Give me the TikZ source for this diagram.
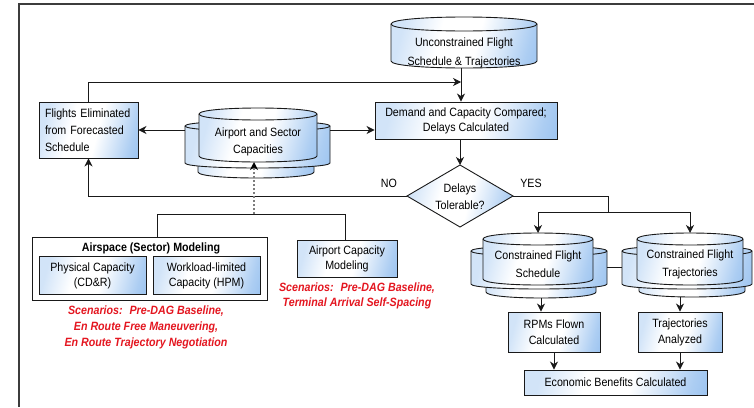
\documentclass[tikz,border=0pt]{standalone}
\usepackage{fontspec}
\setmainfont{Liberation Sans}[FakeStretch=0.89]
\usetikzlibrary{arrows.meta,fit}

\definecolor{boxblue}{RGB}{105,165,232}
\definecolor{scenred}{RGB}{228,22,32}
\definecolor{framegrey}{RGB}{60,60,60}
\definecolor{dashgrey}{RGB}{125,125,125}

% light at the left, white in the middle, blue towards the right
\pgfdeclarehorizontalshading{boxshade}{100bp}{color(0bp)=(boxblue!30); color(25bp)=(boxblue!30);
  color(40bp)=(white); color(55bp)=(white); color(75bp)=(boxblue!55); color(100bp)=(boxblue)}

\tikzset{
  flowline/.style={line width=0.9pt, draw=black!90},
  arr/.style={flowline, -{Stealth[length=8pt,width=8pt,inset=2.5pt]}},
  dasharr/.style={line width=1.4pt, draw=dashgrey, dash pattern=on 2.5pt off 1.5pt,
    -{Stealth[length=8pt,width=8pt,inset=2.5pt,color=black]}},
  shadefill/.style={shading=boxshade, shading angle=-15},
  procbox/.style={rectangle, draw=black!90, line width=0.9pt, shadefill, inner sep=0pt,
    align=center, font=\fontsize{12}{15}\selectfont},
  cylfill/.style={draw=black!90, line width=0.9pt, shadefill},
  cyledge/.style={draw=black!90, line width=0.9pt},
  anchorbox/.style={inner sep=0pt, outer sep=0pt},
  lbl/.style={inner sep=0pt, align=center, font=\fontsize{12}{15}\selectfont},
  scen/.style={inner sep=0pt, align=center, text=scenred,
    font=\fontsize{12}{16}\selectfont\bfseries\itshape},
}

% one cylinder: centre x, top y, bottom y, half width, ellipse radius
\newcommand\cylpiece[5]{%
  \path[cylfill] (#1-#4,#2+#5) .. controls (#1-#4,#2-0.333*#5) and (#1+#4,#2-0.333*#5) .. (#1+#4,#2+#5)
    -- (#1+#4,#3-#5) .. controls (#1+#4,#3+0.333*#5) and (#1-#4,#3+0.333*#5) .. (#1-#4,#3-#5) -- cycle;
  \draw[cyledge] (#1-#4,#2+#5) .. controls (#1-#4,#2+2.333*#5) and (#1+#4,#2+2.333*#5) .. (#1+#4,#2+#5);%
}

\begin{document}
\begin{tikzpicture}[x=1pt,y=-1pt]
\useasboundingbox (0,0) rectangle (754,407);
\fill[white] (0,0) rectangle (754,407);
\draw[framegrey, line width=1.3pt] (754,4) -- (19,4) -- (19,407);

% unconstrained schedule store
\cylpiece{464}{17}{68}{73}{7}
\node[anchorbox, fit={(391,17) (537,68)}] (unc) {};
\node[lbl] (unctxt) at (464,53) {Unconstrained Flight\\[4pt]Schedule \& Trajectories};

% demand / capacity comparison
\node[procbox, minimum width=182pt, minimum height=37pt] (dem) at (466,120.5)
  {Demand and Capacity Compared;\\Delays Calculated};

% decision
\path[cylfill] (407,196) -- (460,165) -- (513,196) -- (460,227) -- cycle;
\node[anchorbox, fit={(407,165) (513,227)}] (dia) {};
\node[lbl, font=\fontsize{12}{17}\selectfont] (diatxt) at (460,197) {Delays\\Tolerable?};
\node[lbl] (nolbl) at (389,183) {NO};
\node[lbl] (yeslbl) at (531,183) {YES};

% eliminated flights
\node[procbox, minimum width=99pt, minimum height=56pt, text width=87pt, align=left,
  font=\fontsize{12}{17}\selectfont] (fl) at (88.5,130)
  {Flights Eliminated\\from Forecasted\\Schedule};

% airport and sector capacities (stacked store)
\cylpiece{256}{122}{178}{58}{6}
\node[anchorbox, fit={(198,122) (314,178)}] (asc-b) {};
\cylpiece{257.5}{121}{168}{72.5}{5}
\node[anchorbox, fit={(185,121) (330,168)}] (asc-w) {};
\cylpiece{258}{108}{162}{59}{6}
\node[anchorbox, fit={(199,108) (317,162)}] (asc) {};
\node[lbl, font=\fontsize{12}{17}\selectfont] (asctxt) at (258,141.5) {Airport and Sector\\Capacities};

% airspace modelling group
\node[draw=black!90, line width=0.9pt, fill=white, minimum width=235pt, minimum height=63pt,
  inner sep=0pt] (asm) at (149.5,268.5) {};
\node[lbl, font=\fontsize{12}{15}\selectfont\bfseries] (asmtitle) at (151,248) {Airspace (Sector) Modeling};
\node[procbox, minimum width=107pt, minimum height=38pt] (phy) at (92.5,275.5)
  {Physical Capacity\\(CD\&R)};
\node[procbox, minimum width=107pt, minimum height=38pt] (wkl) at (206.5,275.5)
  {Workload-limited\\Capacity (HPM)};

% airport capacity modelling
\node[procbox, minimum width=100pt, minimum height=37pt] (acm) at (347,258.5)
  {Airport Capacity\\Modeling};

% scenarios
\node[scen] (scen1) at (146,327)
  {Scenarios:~ Pre-DAG Baseline,\\En Route Free Maneuvering,\\En Route Trajectory Negotiation};
\node[scen, font=\fontsize{12}{15}\selectfont\bfseries\itshape] (scen2) at (357,295.5)
  {Scenarios:~ Pre-DAG Baseline,\\Terminal Arrival Self-Spacing};

% constrained flight schedule (stacked store)
\cylpiece{541}{248}{298}{55}{6}
\node[anchorbox, fit={(486,248) (596,298)}] (cfs-b) {};
\cylpiece{539}{246}{289}{68}{5}
\node[anchorbox, fit={(471,246) (607,289)}] (cfs-w) {};
\cylpiece{538}{233}{285}{55}{6}
\node[anchorbox, fit={(483,233) (593,285)}] (cfs) {};
\node[lbl, font=\fontsize{12}{18}\selectfont] (cfstxt) at (538,264) {Constrained Flight\\Schedule};

% constrained flight trajectories (stacked store)
\cylpiece{692}{248}{297}{53}{6}
\node[anchorbox, fit={(639,248) (745,297)}] (cft-b) {};
\cylpiece{687}{246}{289}{65}{5}
\node[anchorbox, fit={(622,246) (752,289)}] (cft-w) {};
\cylpiece{690}{233}{285}{53}{6}
\node[anchorbox, fit={(637,233) (743,285)}] (cft) {};
\node[lbl, font=\fontsize{12}{18}\selectfont] (cfttxt) at (690,264) {Constrained Flight\\Trajectories};

% results
\node[procbox, minimum width=92pt, minimum height=40pt, font=\fontsize{12}{16}\selectfont] (rpm) at (554,332)
  {RPMs Flown\\Calculated};
\node[procbox, minimum width=84pt, minimum height=40pt, font=\fontsize{12}{16}\selectfont] (tra) at (680,332)
  {Trajectories\\Analyzed};
\node[procbox, minimum width=183pt, minimum height=25pt] (eco) at (615.5,382.5)
  {Economic Benefits Calculated};

% connectors
\coordinate (mrg) at (461,82);
\draw[arr] (unc.south -| mrg) -- (dem.north -| mrg);
\draw[arr] (fl.north) |- (mrg);
\draw[arr] (dem.south -| dia.north) -- (dia.north);
\draw[arr] (asc-w.west |- fl.east) -- (fl.east);
\draw[arr] (asc-w.east |- fl.east) -- (dem.west |- fl.east);
\draw[arr] (dia.west) -| (fl.south);

\coordinate (yj) at (608,212);
\draw[flowline] (dia.east) -| (yj);
\draw[arr] (yj) -| (cfs.north);
\draw[arr] (yj) -| (cft.north);
\draw[flowline] (cfs-w.east) -- (cft-w.west);

\coordinate (bl) at (157,214);
\coordinate (br) at (345,214);
\coordinate (bm) at (254,214);
\draw[flowline] (asm.north -| bl) -- (bl) -- (br) -- (acm.north -| br);
\draw[dasharr] (bm) -- (bm |- asc.south);

\draw[arr] (cfs-b.south) -- (cfs-b.south |- rpm.north);
\draw[arr] (tra.north |- cft-b.south) -- (tra.north);
\draw[arr] (rpm.south) -- (rpm.south |- eco.north);
\draw[arr] (tra.south) -- (tra.south |- eco.north);
\end{tikzpicture}
\end{document}
